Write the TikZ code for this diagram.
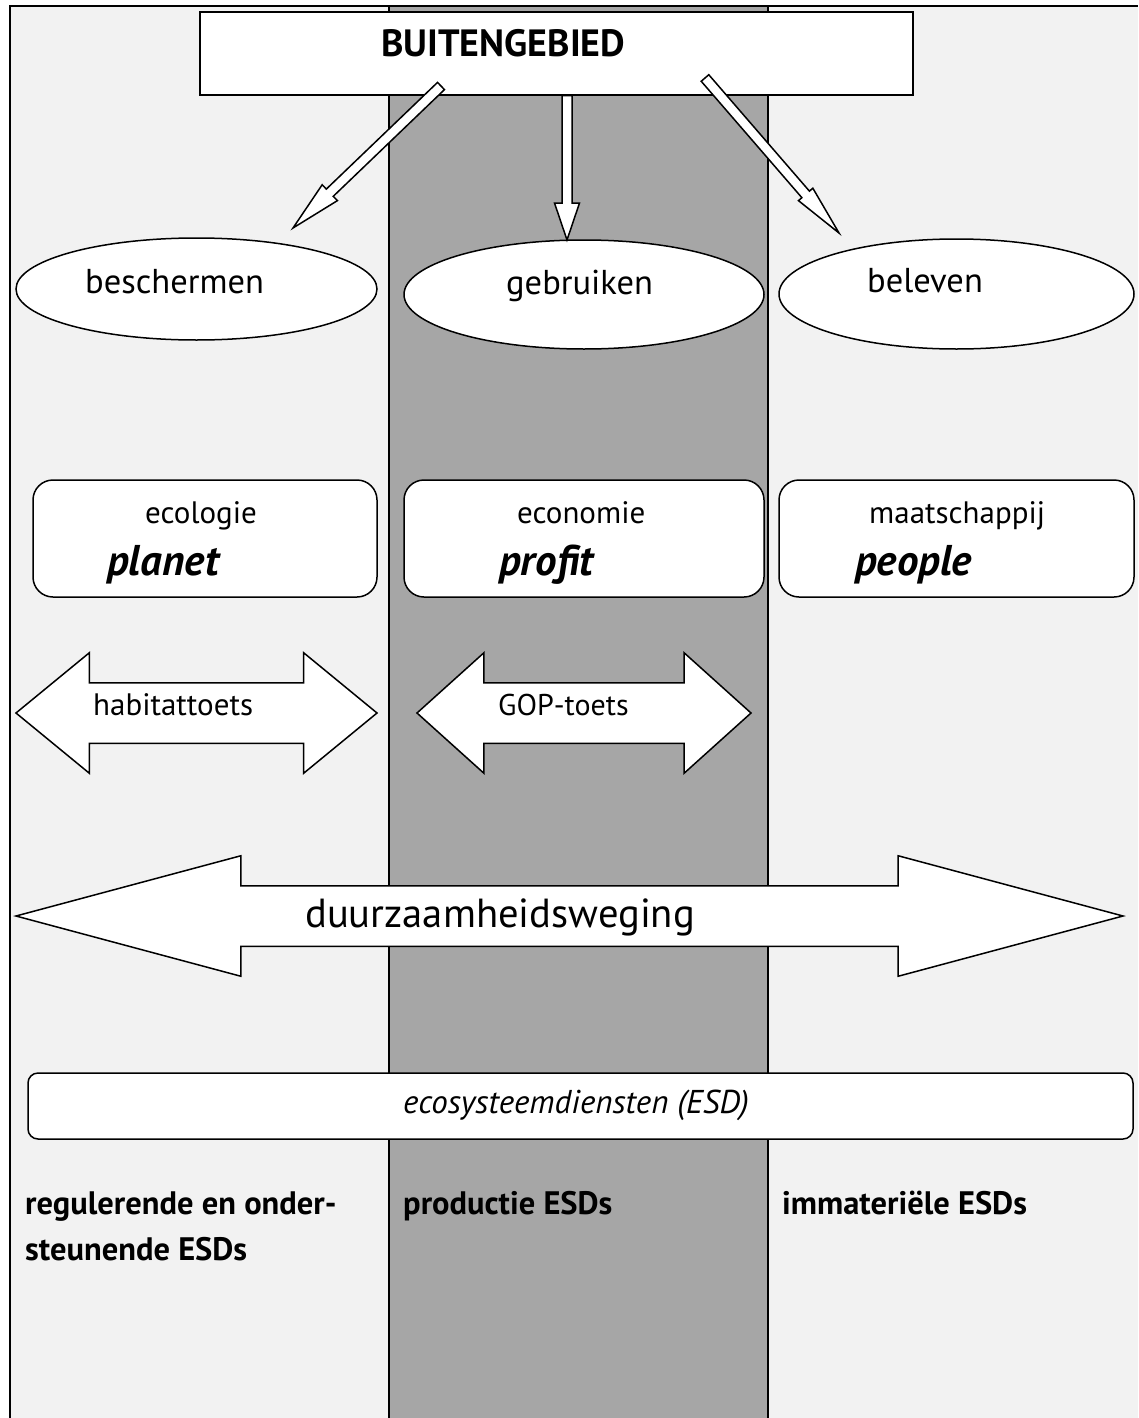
\documentclass[tikz,border=0pt]{standalone}
\usepackage{fontspec}
\setmainfont{PT Sans}
\usepackage{tikz}
\usetikzlibrary{calc,shapes.geometric,shapes.arrows}

\definecolor{paleback}{HTML}{F2F2F2}
\definecolor{midband}{HTML}{A6A6A6}

% hollow block arrow: tail, tip, head length, half head width
\newcommand{\hollowarrow}[4]{%
  \coordinate (hb) at ($(#2)!#3!(#1)$);
  \draw[hollow] ($(#1)!5pt!90:(#2)$) -- ($(hb)!5pt!-90:(#1)$) -- ($(hb)!#4!-90:(#1)$) -- (#2)
    -- ($(hb)!#4!90:(#1)$) -- ($(hb)!5pt!90:(#1)$) -- ($(#1)!5pt!-90:(#2)$) -- cycle;}

\tikzset{
  hollow/.style={draw, fill=white, line width=1.5pt, line join=miter},
  field/.style={rectangle, draw, fill=white, line width=1.5pt, inner sep=0pt},
  oval/.style={ellipse, draw, fill=white, line width=1.5pt, inner sep=0pt},
  card/.style={rectangle, rounded corners=20pt, draw, fill=white, line width=1.5pt, inner sep=0pt},
  twoway/.style={double arrow, draw, fill=white, line width=1.5pt, inner xsep=0pt,
    inner ysep=29.5pt, double arrow head extend=30pt},
  txt/.style={inner sep=0pt, anchor=base west, font=\fontsize{31}{37}\selectfont},
  big/.style={txt, font=\fontsize{34.5}{41}\selectfont},
  key/.style={txt, font=\fontsize{43}{51}\selectfont\bfseries\itshape},
  esd/.style={txt, font=\fontsize{32.5}{39}\selectfont\bfseries}
}

\begin{document}
\begin{tikzpicture}[x=1pt,y=-1pt]
\useasboundingbox (0,0) rectangle (1138,1418);

% columns
\fill[paleback] (10,6.5) rectangle (1138,1418);
\fill[midband] (389,6.5) rectangle (768,1418);
\draw[line width=2pt] (10,1418) -- (10,6.5) -- (1138,6.5);
\draw[line width=2pt] (389,6.5) -- (389,1418) (768,6.5) -- (768,1418);

% top
\node[field, minimum width=713pt, minimum height=83pt] (gebied) at (556.5,53.5) {};
\node[txt, font=\fontsize{38}{45}\selectfont\bfseries] (gebied-t) at (381,57) {BUITENGEBIED};

\node[oval, minimum width=361pt, minimum height=102pt] (bescherm) at (196.5,289) {};
\node[oval, minimum width=360pt, minimum height=109pt] (gebruik) at (584,294.5) {};
\node[oval, minimum width=355pt, minimum height=110pt] (beleef) at (956.5,294) {};
\node[big] (bescherm-t) at (85,293) {beschermen};
\node[big] (gebruik-t) at (506,294) {gebruiken};
\node[big] (beleef-t) at (867,292) {beleven};

\coordinate (tail-l) at (441,86);
\coordinate (tip-l) at (293,228);
\coordinate (tip-m) at (567,240);
\coordinate (tail-m) at (gebied.south -| tip-m);
\coordinate (tail-r) at (705,78);
\coordinate (tip-r) at (839,233);
\hollowarrow{tail-l}{tip-l}{51pt}{11pt}
\hollowarrow{tail-m}{tip-m}{37pt}{12.5pt}
\hollowarrow{tail-r}{tip-r}{51pt}{9.5pt}

% pillars
\node[card, minimum width=344pt, minimum height=117pt] (eco) at (205,538.5) {};
\node[card, minimum width=360pt, minimum height=117pt] (econ) at (584,538.5) {};
\node[card, minimum width=355pt, minimum height=117pt] (maat) at (956.5,538.5) {};
\node[txt] (eco-t) at (145,523) {ecologie};
\node[txt] (econ-t) at (517,523) {economie};
\node[txt] (maat-t) at (869,523) {maatschappij};
\node[key] (planet) at (107,575) {planet};
\node[key] (profit) at (499,575) {profit};
\node[key] (people) at (855,575) {people};

% toetsen
\node[twoway, minimum height=361pt, minimum width=120pt, double arrow tip angle=78.8] (hab) at (196.5,713) {};
\node[twoway, minimum height=334pt, minimum width=120pt, double arrow tip angle=84] (gop) at (584,713) {};
\node[txt] (hab-t) at (93,715) {habitattoets};
\node[txt, font=\fontsize{30}{36}\selectfont] (gop-t) at (498,715) {GOP-toets};

\node[twoway, minimum height=1107pt, minimum width=119pt, double arrow tip angle=30] (weging) at (569.5,916) {};
\node[txt, font=\fontsize{40.6}{48}\selectfont] (weging-t) at (305,927) {duurzaamheidsweging};

% ESD
\node[field, rounded corners=10pt, minimum width=1105pt, minimum height=66pt] (esd) at (580.5,1106) {};
\node[txt, font=\fontsize{33}{40}\selectfont\itshape] (esd-t) at (403,1113) {ecosysteemdiensten (ESD)};

\node[esd] (regul) at (25,1214) {regulerende en onder-};
\node[esd] (steun) at (25,1260) {steunende ESDs};
\node[esd] (prod) at (403,1214) {productie ESDs};
\node[esd] (immat) at (782,1214) {immateriële ESDs};
\end{tikzpicture}
\end{document}
